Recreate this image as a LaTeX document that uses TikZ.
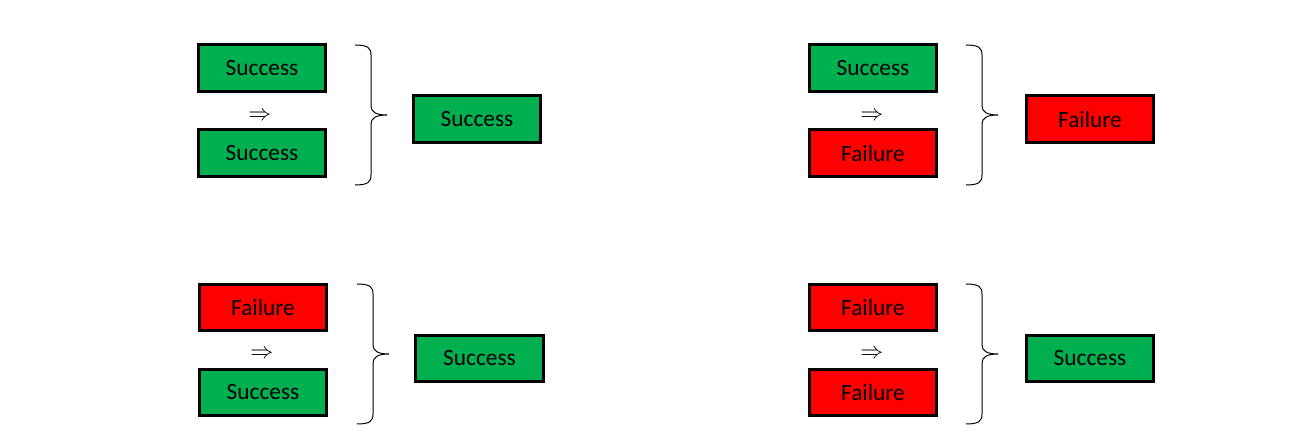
\documentclass[tikz,border=0pt]{standalone}
\usepackage{fontspec}
\setmainfont{Carlito}
\usepackage{tikz}
\definecolor{okgreen}{HTML}{00B050}
\definecolor{badred}{HTML}{FF0000}
\tikzset{
  outcome/.style={draw, line width=2.25pt, minimum width=95.5pt, minimum height=35pt, inner sep=0pt, font=\fontsize{17.5}{20}\selectfont},
  succ/.style={outcome, fill=okgreen},
  fail/.style={outcome, fill=badred},
  implies/.style={inner sep=0pt, font=\fontsize{16}{16}\selectfont},
  grp/.style={line width=0.75pt}
}

\begin{document}
\begin{tikzpicture}[x=0.75pt, y=-0.75pt]
  \useasboundingbox (0,0) rectangle (1315,445);

  % Define nodes
  \node[succ] (a1) at (262,68) {Success};
  \node[implies] (ai) at (260,116) {$\Rightarrow$};
  \node[succ] (a2) at (262,153) {Success};
  \node[succ] (ar) at (477,119) {Success};

  \node[succ] (b1) at (873,68) {Success};
  \node[implies] (bi) at (872,116) {$\Rightarrow$};
  \node[fail] (b2) at (873,153) {Failure};
  \node[fail] (br) at (1090,119) {Failure};

  \node[fail] (c1) at (263,307.5) {Failure};
  \node[implies] (ci) at (262,354) {$\Rightarrow$};
  \node[succ] (c2) at (263,392.5) {Success};
  \node[succ] (cr) at (479.5,358.5) {Success};

  \node[fail] (d1) at (873,307.5) {Failure};
  \node[implies] (di) at (872,354) {$\Rightarrow$};
  \node[fail] (d2) at (873,392.5) {Failure};
  \node[succ] (dr) at (1090,358.5) {Success};

  % Draw braces
  \foreach \bx/\by in {355/45, 357/284, 966/45, 966/284} {
    \begin{scope}[shift={(\bx,\by)}]
      \draw[grp] (0,0) .. controls (13,0) and (16,3) .. (16,10) -- (16,61)
        .. controls (16,67) and (21,70) .. (32,70)
        .. controls (21,70) and (16,73) .. (16,79) -- (16,130)
        .. controls (16,137) and (13,140) .. (0,140);
    \end{scope}
  }
\end{tikzpicture}
\end{document}
